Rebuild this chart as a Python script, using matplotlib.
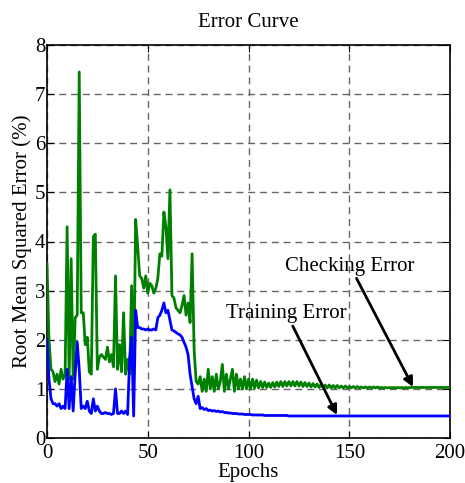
import matplotlib

matplotlib.use("Agg")
import matplotlib.pyplot as plt
import numpy as np

plt.rcParams["font.family"] = ["Liberation Serif", "DejaVu Serif"]
plt.rcParams["mathtext.fontset"] = "stix"

# RMSE (%) per epoch
training_error = [
    2.0, 1.2, 0.8, 0.7, 0.7, 0.65, 0.7, 0.6, 0.65, 0.6,
    1.4, 0.6, 1.25, 0.55, 1.3, 1.95, 1.4, 0.6, 0.65, 0.6,
    0.75, 0.55, 0.5, 0.8, 0.55, 0.65, 0.55, 0.5, 0.5, 0.52,
    0.5, 0.5, 0.48, 0.5, 1.0, 0.5, 0.5, 0.55, 0.5, 0.55,
    0.48, 1.6, 2.05, 0.45, 2.6, 2.25, 2.25, 2.22, 2.22, 2.2,
    2.22, 2.2, 2.2, 2.22, 2.2, 2.45, 2.5, 2.6, 2.75, 2.55,
    2.6, 2.4, 2.2, 2.18, 2.15, 2.12, 2.1, 2.05, 1.95, 1.85,
    1.7, 1.3, 1.05, 0.8, 0.7, 0.85, 0.6, 0.62, 0.58, 0.6,
    0.56, 0.57, 0.55, 0.56, 0.54, 0.55, 0.53, 0.54, 0.52, 0.52,
    0.51, 0.51, 0.5, 0.5, 0.5, 0.49, 0.49, 0.49, 0.48, 0.48,
    0.48, 0.48, 0.47, 0.47, 0.47, 0.47, 0.47, 0.47, 0.46, 0.46,
    0.46, 0.46, 0.46, 0.46, 0.46, 0.46, 0.46, 0.46, 0.46, 0.46,
    0.45, 0.45, 0.45, 0.45, 0.45, 0.45, 0.45, 0.45, 0.45, 0.45,
    0.45, 0.45, 0.45, 0.45, 0.45, 0.45, 0.45, 0.45, 0.45, 0.45,
    0.45, 0.45, 0.45, 0.45, 0.45, 0.45, 0.45, 0.45, 0.45, 0.45,
    0.45, 0.45, 0.45, 0.45, 0.45, 0.45, 0.45, 0.45, 0.45, 0.45,
    0.45, 0.45, 0.45, 0.45, 0.45, 0.45, 0.45, 0.45, 0.45, 0.45,
    0.45, 0.45, 0.45, 0.45, 0.45, 0.45, 0.45, 0.45, 0.45, 0.45,
    0.45, 0.45, 0.45, 0.45, 0.45, 0.45, 0.45, 0.45, 0.45, 0.45,
    0.45, 0.45, 0.45, 0.45, 0.45, 0.45, 0.45, 0.45, 0.45, 0.45,
    0.45,
]

checking_error = [
    3.55, 2.0, 1.4, 1.35, 1.15, 1.3, 1.1, 1.4, 1.2, 1.3,
    4.3, 1.2, 3.65, 1.2, 2.45, 2.5, 7.45, 2.55, 2.55, 1.9,
    2.05, 1.35, 1.3, 4.1, 4.15, 1.4, 1.65, 1.7, 1.65, 1.6,
    1.85, 1.55, 1.7, 1.45, 3.3, 1.4, 1.9, 1.35, 2.55, 1.3,
    1.6, 1.3, 3.1, 1.2, 4.45, 3.9, 3.3, 3.25, 3.05, 3.3,
    2.95, 3.15, 3.1, 2.95, 3.05, 3.25, 3.75, 3.7, 4.6, 4.3,
    3.65, 5.05, 2.9, 2.85, 2.65, 2.6, 2.55, 2.7, 2.9, 2.5,
    2.75, 2.35, 3.75, 1.8, 1.15, 1.1, 1.25, 0.95, 1.2, 0.95,
    1.4, 1.0, 1.25, 0.95, 1.3, 1.0, 1.15, 1.5, 0.95, 1.3,
    1.0, 1.2, 1.4, 0.95, 1.3, 1.0, 1.2, 1.0, 1.25, 1.0,
    1.2, 1.0, 1.2, 1.02, 1.18, 1.02, 1.15, 1.03, 1.14, 1.03,
    1.12, 1.03, 1.13, 1.04, 1.14, 1.05, 1.15, 1.05, 1.15, 1.06,
    1.15, 1.06, 1.15, 1.06, 1.15, 1.06, 1.14, 1.05, 1.13, 1.05,
    1.12, 1.04, 1.11, 1.04, 1.1, 1.03, 1.09, 1.03, 1.08, 1.02,
    1.08, 1.02, 1.07, 1.02, 1.07, 1.02, 1.06, 1.02, 1.06, 1.02,
    1.05, 1.02, 1.05, 1.02, 1.05, 1.02, 1.04, 1.02, 1.04, 1.02,
    1.04, 1.02, 1.04, 1.02, 1.04, 1.02, 1.03, 1.02, 1.03, 1.02,
    1.03, 1.02, 1.03, 1.02, 1.03, 1.02, 1.03, 1.02, 1.03, 1.02,
    1.03, 1.03, 1.03, 1.03, 1.03, 1.03, 1.03, 1.03, 1.03, 1.03,
    1.03, 1.03, 1.03, 1.03, 1.03, 1.03, 1.03, 1.03, 1.03, 1.03,
    1.03,
]

epochs = np.arange(len(training_error))

fig = plt.figure(figsize=(4.65, 4.83), dpi=100)
ax = fig.add_axes([0.101, 0.093, 0.867, 0.814])

ax.plot(epochs, checking_error, color="#008000", lw=2, zorder=3)
ax.plot(epochs, training_error, color="#0000FF", lw=2, zorder=3)

ax.set_xlim(0, 200)
ax.set_ylim(0, 8)
ax.set_xticks([0, 50, 100, 150, 200])
ax.set_yticks(range(0, 9))
ax.tick_params(direction="in", top=True, right=True, labelsize=15, length=5)
ax.tick_params(axis="x", pad=4)
ax.tick_params(axis="y", pad=1)
ax.grid(True, color="0.4", ls=(0, (5, 3.5)), lw=1.0, zorder=1)
for sp in ax.spines.values():
    sp.set_linewidth(1.2)

ax.set_title("Error Curve", fontsize=15, pad=13)
ax.set_xlabel("Epochs", fontsize=15, labelpad=0)
ax.set_ylabel("Root Mean Squared Error (%)", fontsize=15, labelpad=2)

arrow = dict(arrowstyle="-|>", color="black", lw=2, mutation_scale=14, shrinkA=0, shrinkB=0)
ax.annotate("Checking Error", xy=(181.6, 1.04), xytext=(150.4, 3.5),
            fontsize=15, ha="center", va="center", arrowprops=arrow)
ax.annotate("Training Error", xy=(143.9, 0.47), xytext=(118.9, 2.53),
            fontsize=15, ha="center", va="center", arrowprops=arrow)

fig.savefig("out.png", dpi=100)
